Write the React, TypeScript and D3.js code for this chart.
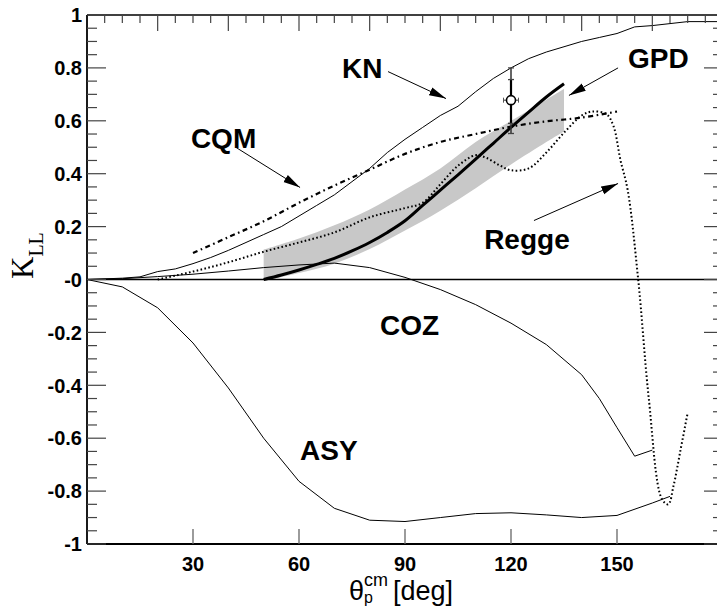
import React from "react";
import * as d3 from "d3";

// ---- data (theta_cm in degrees, K_LL) ----
const knX = [0, 10, 15, 20, 25, 30, 35, 40, 45, 50, 55, 60, 65, 70, 75, 80, 85, 90, 95, 100, 105, 110, 115, 120, 125, 130, 135, 140, 145, 150, 155, 160, 170, 180];
const knY = [0, 0.005, 0.01, 0.03, 0.04, 0.06, 0.083, 0.11, 0.14, 0.17, 0.2, 0.24, 0.28, 0.32, 0.37, 0.42, 0.48, 0.53, 0.575, 0.62, 0.655, 0.71, 0.76, 0.8, 0.835, 0.86, 0.88, 0.9, 0.915, 0.93, 0.955, 0.96, 0.975, 0.975];

const cqmX = [30, 40, 50, 60, 70, 80, 90, 100, 110, 120, 130, 140, 150];
const cqmY = [0.1, 0.16, 0.22, 0.29, 0.355, 0.415, 0.475, 0.52, 0.55, 0.578, 0.598, 0.612, 0.635];

const gpdX = [50, 55, 60, 65, 70, 75, 80, 85, 90, 95, 100, 105, 110, 115, 120, 125, 130, 135];
const gpdY = [0, 0.017, 0.036, 0.057, 0.08, 0.108, 0.14, 0.178, 0.222, 0.28, 0.338, 0.396, 0.455, 0.515, 0.575, 0.633, 0.69, 0.74];

const bandX = [50, 60, 70, 80, 90, 100, 110, 120, 130, 135];
const bandHi = [0.113, 0.155, 0.205, 0.265, 0.34, 0.42, 0.52, 0.6, 0.68, 0.72];
const bandLo = [-0.005, 0.025, 0.06, 0.115, 0.185, 0.26, 0.345, 0.435, 0.52, 0.56];

const reggeX = [20, 30, 40, 50, 60, 70, 80, 90, 95, 100, 105, 110, 113, 117, 120, 125, 130, 135, 140, 143, 147, 149, 151, 153, 156, 159, 162.7, 164.5, 166, 168, 170];
const reggeY = [0, 0.03, 0.065, 0.105, 0.14, 0.178, 0.235, 0.27, 0.29, 0.36, 0.43, 0.47, 0.46, 0.43, 0.413, 0.42, 0.48, 0.555, 0.62, 0.635, 0.625, 0.58, 0.45, 0.34, 0, -0.45, -0.83, -0.85, -0.78, -0.643, -0.504];

const cozX = [0, 10, 20, 30, 40, 50, 60, 70, 80, 90, 100, 110, 120, 130, 140, 145, 150, 155, 160];
const cozY = [0, 0.003, 0.011, 0.02, 0.032, 0.045, 0.055, 0.062, 0.045, 0.008, -0.038, -0.095, -0.165, -0.246, -0.36, -0.45, -0.56, -0.668, -0.645];

const asyX = [0, 10, 20, 30, 40, 50, 60, 70, 80, 90, 100, 110, 120, 130, 140, 150, 160, 165];
const asyY = [0, -0.028, -0.107, -0.24, -0.41, -0.6, -0.763, -0.865, -0.91, -0.915, -0.9, -0.885, -0.882, -0.89, -0.9, -0.892, -0.845, -0.82];

// experimental point
const pointX = [120];
const pointY = [0.678];
const statLo = [0.59];
const statHi = [0.756];
const totLo = [0.552];
const totHi = [0.8];

// ticks
const yTickValues = [-1, -0.8, -0.6, -0.4, -0.2, 0, 0.2, 0.4, 0.6, 0.8, 1];
const yTickLabels = ["-1", "-0.8", "-0.6", "-0.4", "-0.2", "-0", "0.2", "0.4", "0.6", "0.8", "1"];
const xTickValues = [30, 60, 90, 120, 150];
const xTickLabels = ["30", "60", "90", "120", "150"];

// annotations
const labelNames = ["KN", "GPD", "CQM", "Regge", "COZ", "ASY"];
const labelPosX = [72.2, 153.1, 29.4, 112.4, 82.9, 60.3];
const labelPosY = [0.76, 0.8, 0.499, 0.117, -0.208, -0.684];
const arrowNames = ["KN", "GPD", "CQM", "Regge"];
const arrowFromX = [85.2, 150.3, 42.2, 126.5];
const arrowFromY = [0.786, 0.8, 0.499, 0.223];
const arrowToX = [101.6, 136.4, 60.3, 150.3];
const arrowToY = [0.684, 0.696, 0.348, 0.363];

const W = 717;
const H = 609;
const M = { left: 87, top: 15, right: 723, bottom: 544 };

export default function App() {
  const x = d3.scaleLinear().domain([0, 180]).range([M.left, M.right]);
  const y = d3.scaleLinear().domain([-1, 1]).range([M.bottom, M.top]);

  const zip = (xs: number[], ys: number[]) => xs.map((v, i) => [v, ys[i]] as [number, number]);
  const lin = d3.line<[number, number]>().x((d) => x(d[0])).y((d) => y(d[1]));
  const smooth = d3
    .line<[number, number]>()
    .x((d) => x(d[0]))
    .y((d) => y(d[1]))
    .curve(d3.curveCatmullRom.alpha(0.5));
  const area = d3
    .area<number>()
    .x((_, i) => x(bandX[i]))
    .y0((_, i) => y(bandLo[i]))
    .y1((_, i) => y(bandHi[i]))
    .curve(d3.curveCatmullRom.alpha(0.5));

  const minorY = d3.range(-20, 21).map((k) => k * 0.05);
  const topTicks = d3.range(5, 180, 5);
  const font = "'Liberation Sans', Arial, Helvetica, sans-serif";
  const tickColor = "#444";

  return (
    <svg
      width={W}
      height={H}
      style={{ position: "absolute", left: 0, top: 0, background: "#fff" }}
      xmlns="http://www.w3.org/2000/svg"
    >
      <defs>
        <marker
          id="ah"
          markerUnits="userSpaceOnUse"
          markerWidth={18}
          markerHeight={10}
          refX={17}
          refY={5}
          orient="auto"
        >
          <path d="M0,0.8 L17,5 L0,9.2 Z" fill="#000" />
        </marker>
      </defs>
      <rect x={0} y={0} width={W} height={H} fill="#fff" />

      {/* gray band */}
      <path d={area(bandX) || ""} fill="#c8c8c8" stroke="none" />

      {/* zero line */}
      <line x1={x(0)} x2={x(180)} y1={y(0)} y2={y(0)} stroke="#000" strokeWidth={1.3} />

      {/* curves */}
      <path d={lin(zip(knX, knY)) || ""} fill="none" stroke="#000" strokeWidth={1} />
      <path d={lin(zip(cozX, cozY)) || ""} fill="none" stroke="#000" strokeWidth={1} />
      <path d={lin(zip(asyX, asyY)) || ""} fill="none" stroke="#000" strokeWidth={1} />
      <path
        d={smooth(zip(reggeX, reggeY)) || ""}
        fill="none"
        stroke="#000"
        strokeWidth={2}
        strokeDasharray="1.6,2.4"
      />
      <path
        d={smooth(zip(cqmX, cqmY)) || ""}
        fill="none"
        stroke="#000"
        strokeWidth={2.2}
        strokeDasharray="5,3.5,1.6,3.5"
      />
      <path d={smooth(zip(gpdX, gpdY)) || ""} fill="none" stroke="#000" strokeWidth={3} />

      {/* data point with error bars */}
      {pointX.map((px, i) => (
        <g key={"pt" + i}>
          <line x1={x(px)} x2={x(px)} y1={y(totHi[i])} y2={y(totLo[i])} stroke="#333" strokeWidth={1.5} />
          <line x1={x(px)} x2={x(px)} y1={y(statHi[i])} y2={y(statLo[i])} stroke="#000" strokeWidth={2.2} />
          {[totHi[i], totLo[i], statHi[i], statLo[i]].map((v, j) => (
            <line key={j} x1={x(px) - 3} x2={x(px) + 3} y1={y(v)} y2={y(v)} stroke="#444" strokeWidth={1.3} />
          ))}
          <line x1={x(px) - 7.5} x2={x(px) + 7.5} y1={y(pointY[i])} y2={y(pointY[i])} stroke="#333" strokeWidth={1} />
          <line x1={x(px) - 7.5} x2={x(px) - 7.5} y1={y(pointY[i]) - 2.5} y2={y(pointY[i]) + 2.5} stroke="#555" strokeWidth={1} />
          <line x1={x(px) + 7.5} x2={x(px) + 7.5} y1={y(pointY[i]) - 2.5} y2={y(pointY[i]) + 2.5} stroke="#555" strokeWidth={1} />
          <circle cx={x(px)} cy={y(pointY[i])} r={4.5} fill="#fff" stroke="#000" strokeWidth={1.6} />
        </g>
      ))}

      {/* arrows */}
      {arrowNames.map((n, i) => (
        <line
          key={"ar" + n}
          x1={x(arrowFromX[i])}
          y1={y(arrowFromY[i])}
          x2={x(arrowToX[i])}
          y2={y(arrowToY[i])}
          stroke="#000"
          strokeWidth={1}
          markerEnd="url(#ah)"
        />
      ))}

      {/* labels */}
      {labelNames.map((n, i) => (
        <text
          key={"lb" + n}
          x={x(labelPosX[i])}
          y={y(labelPosY[i])}
          fontFamily={font}
          fontWeight="bold"
          fontSize={28}
          fill="#000"
        >
          {n}
        </text>
      ))}

      {/* frame */}
      <line x1={M.left} x2={M.right} y1={M.top} y2={M.top} stroke="#000" strokeWidth={1.5} />
      <line x1={M.left} x2={M.right} y1={M.bottom} y2={M.bottom} stroke="#000" strokeWidth={1.8} />
      <line x1={M.left} x2={M.left} y1={M.top} y2={M.bottom} stroke="#000" strokeWidth={1.8} />
      <line x1={M.right} x2={M.right} y1={M.top} y2={M.bottom} stroke="#000" strokeWidth={1.5} />

      {/* left / right ticks */}
      {minorY.map((v, i) => {
        const major = Math.abs(Math.round(v * 5) - v * 5) < 1e-6;
        const len = major ? 19 : 10;
        return (
          <g key={"yt" + i}>
            <line x1={M.left} x2={M.left + len} y1={y(v)} y2={y(v)} stroke={tickColor} strokeWidth={1.2} />
            <line x1={M.right} x2={M.right - len} y1={y(v)} y2={y(v)} stroke={tickColor} strokeWidth={1.2} />
          </g>
        );
      })}
      {/* top ticks */}
      {topTicks.map((t) => (
        <line
          key={"tt" + t}
          x1={x(t)}
          x2={x(t)}
          y1={M.top}
          y2={M.top + (t % 20 === 0 ? 16 : 8)}
          stroke={tickColor}
          strokeWidth={1.2}
        />
      ))}
      {/* bottom ticks */}
      {xTickValues.map((t) => (
        <line key={"bt" + t} x1={x(t)} x2={x(t)} y1={M.bottom} y2={M.bottom - 15} stroke="#666" strokeWidth={1.3} />
      ))}

      {/* tick labels */}
      {yTickValues.map((v, i) => (
        <text
          key={"yl" + i}
          x={82}
          y={y(v)}
          dy="0.36em"
          textAnchor="end"
          fontFamily={font}
          fontWeight="bold"
          fontSize={20}
          fill="#000"
        >
          {yTickLabels[i]}
        </text>
      ))}
      {xTickValues.map((t, i) => (
        <text
          key={"xl" + t}
          x={x(t)}
          y={571}
          textAnchor="middle"
          fontFamily={font}
          fontWeight="bold"
          fontSize={20}
          fill="#000"
        >
          {xTickLabels[i]}
        </text>
      ))}

      {/* axis titles */}
      <text x={349} y={600} fontFamily={font} fontSize={27} fill="#000">
        θ
        <tspan fontSize={16} dy={3}>p</tspan>
        <tspan fontSize={18} dx={-9} dy={-17}>cm</tspan>
        <tspan fontSize={27} dy={14} dx={5}>[deg]</tspan>
      </text>
      <text
        transform="translate(33,279) rotate(-90)"
        fontFamily="'Liberation Serif', 'Times New Roman', serif"
        fontSize={31}
        fill="#000"
      >
        K<tspan fontSize={20} dy={10}>LL</tspan>
      </text>
    </svg>
  );
}
